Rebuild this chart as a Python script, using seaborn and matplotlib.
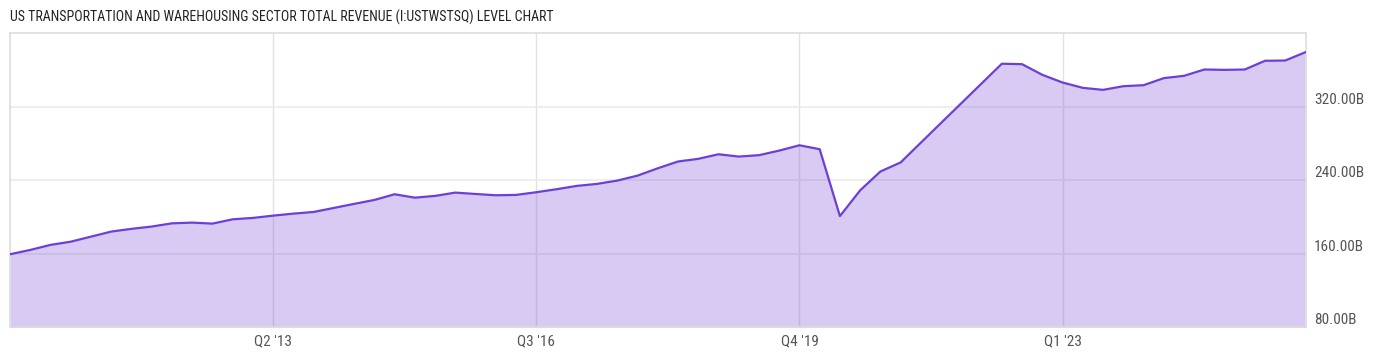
import matplotlib.pyplot as plt
import seaborn as sns
import pandas as pd

# quarterly revenue, billions USD, Q1 2010 onwards
revenue = [159.3, 164.0, 169.5, 173.0, 178.5, 184.0, 187.0, 189.5, 193.0, 193.8,
           192.7, 197.4, 198.9, 201.4, 203.6, 205.4, 209.8, 214.2, 218.5, 224.7,
           221.0, 222.9, 226.5, 225.0, 223.6, 224.0, 226.9, 230.2, 233.8, 236.0,
           239.6, 245.0, 253.0, 260.4, 263.3, 268.3, 265.8, 267.3, 272.3, 278.1,
           273.8, 200.9, 229.0, 249.5, 259.4, 281.0, 302.5, 324.0, 345.5, 367.0,
           366.5, 354.9, 346.5, 340.7, 338.5, 342.5, 343.6, 351.3, 353.8, 360.7,
           360.3, 360.7, 370.2, 370.5, 379.6]
start_year = 2010
tick_labels = ["Q2 '13", "Q3 '16", "Q4 '19", "Q1 '23"]
y_ticks = [80, 160, 240, 320]
title = "US TRANSPORTATION AND WAREHOUSING SECTOR TOTAL REVENUE (I:USTWSTSQ) LEVEL CHART"

quarters = ["Q%d '%02d" % (i % 4 + 1, (start_year + i // 4) % 100) for i in range(len(revenue))]
df = pd.DataFrame({"idx": range(len(revenue)), "quarter": quarters, "revenue": revenue})

LINE = "#6c3fd6"
FONT = ["Roboto Condensed", "Roboto", "DejaVu Sans"]

sns.set_style("white")
plt.rcParams["font.family"] = FONT

fig = plt.figure(figsize=(14, 3.57), dpi=100)
ax = fig.add_axes([10 / 1400, 1 - 327 / 357, (1305.5 - 10) / 1400, (327 - 33) / 357])

ax.fill_between(df["idx"], df["revenue"], 0, color=(0.45, 0.26, 0.82, 0.28), linewidth=0, zorder=2)
sns.lineplot(data=df, x="idx", y="revenue", ax=ax, color=LINE, linewidth=1.6, zorder=3)

ax.set_xlim(0, len(revenue) - 1)
ax.set_ylim(80, 400.5)

xt = [quarters.index(t) for t in tick_labels]
ax.set_xticks(xt)
ax.set_xticklabels(tick_labels)
ax.set_yticks(y_ticks)
ax.set_yticklabels(["%.2fB" % v for v in y_ticks])
ax.yaxis.tick_right()
for lab in ax.get_yticklabels():
    lab.set_verticalalignment("bottom")

ax.tick_params(axis="both", length=0, labelsize=11, colors="#555555")
ax.tick_params(axis="x", pad=5)
ax.tick_params(axis="y", pad=6)

ax.grid(True, axis="y", color="#ebebeb", linewidth=1.2, zorder=1)
ax.grid(True, axis="x", color="#e2e2e2", linewidth=1, zorder=1)
ax.set_axisbelow(True)
for s in ax.spines.values():
    s.set_color("#dddddd")
    s.set_linewidth(1.2)
ax.set_xlabel("")
ax.set_ylabel("")

fig.text(10 / 1400, 1 - 17 / 357, title, fontsize=10, color="#222222", va="center", ha="left")

fig.savefig("out.png", dpi=100)
